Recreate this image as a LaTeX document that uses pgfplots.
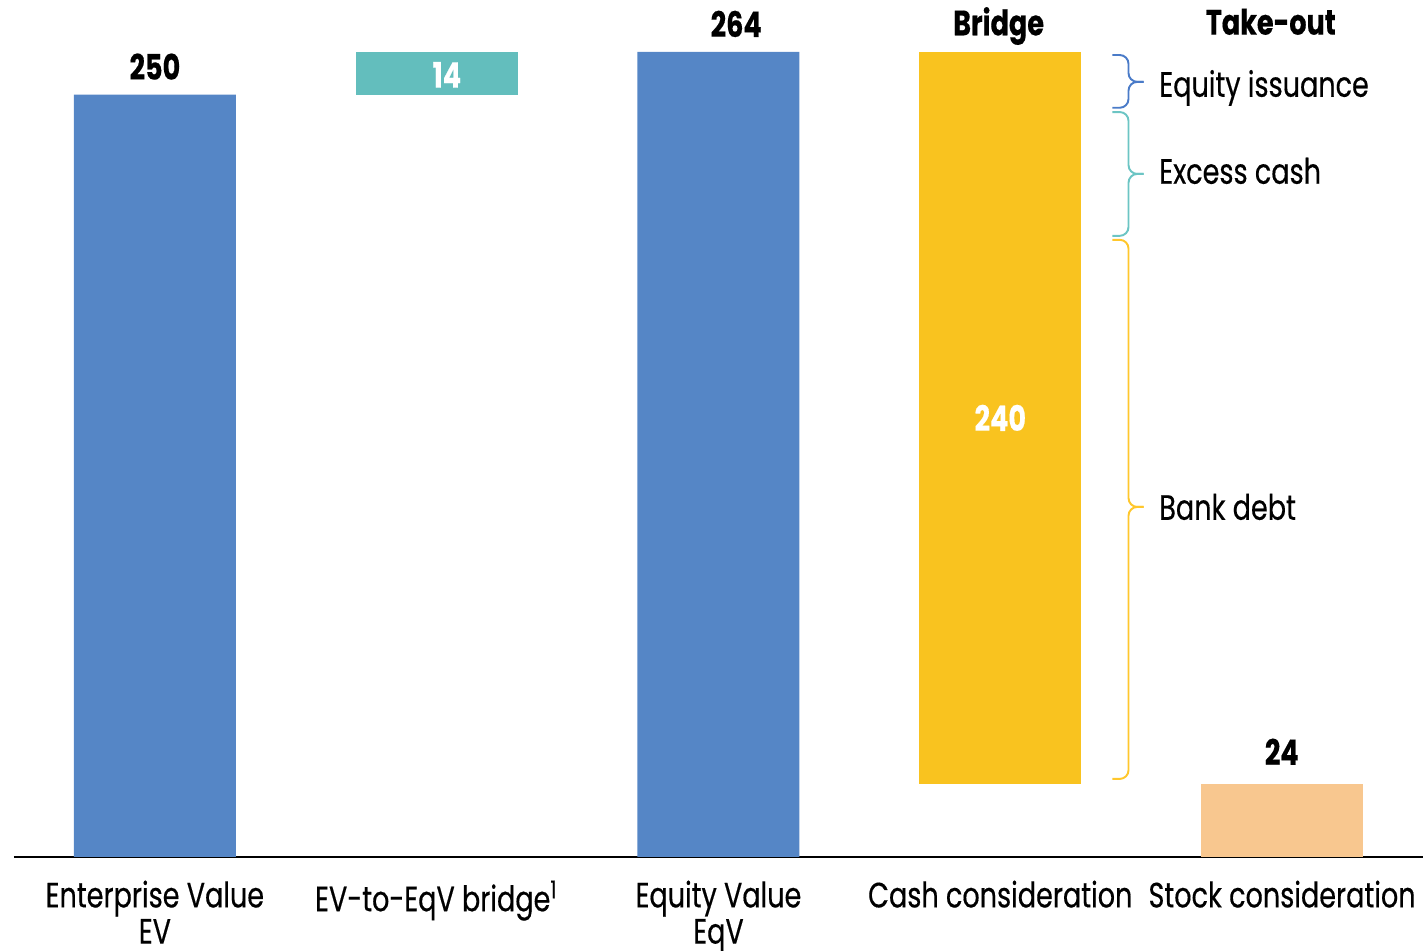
\documentclass[border=0pt]{standalone}
\usepackage{fontspec}
\setmainfont{Poppins}[FakeStretch=0.77, FakeBold=0.4]
\usepackage{pgfplots}
\pgfplotsset{compat=1.18}
\definecolor{evblue}{HTML}{5586C6}
\definecolor{bteal}{HTML}{63BEBD}
\definecolor{byellow}{HTML}{F9C31F}
\definecolor{borange}{HTML}{F8C78F}
\definecolor{brblue}{HTML}{4A7BC8}
\definecolor{brteal}{HTML}{6CC5C4}
\definecolor{bryellow}{HTML}{FFC72C}
\tikzset{brc/.style={line width=0.55pt, rounded corners=2.5pt}}
\begin{document}
\begin{tikzpicture}[font=\fontsize{10}{10.5}\selectfont]
\useasboundingbox (-0.14,-0.94) rectangle (14.09,8.57);
\begin{axis}[
  width=14.09cm, height=8.05cm, scale only axis,
  xmin=-0.5, xmax=4.5, ymin=0, ymax=264,
  clip=false,
  ybar stacked, bar width=1.62cm,
  hide y axis,
  axis x line*=bottom,
  x axis line style={line width=0.6pt, black},
  xtick={0,1,2,3,4},
  xtick style={draw=none},
  xticklabels={{Enterprise Value\\EV},{EV-to-EqV bridge\textsuperscript{1}},{Equity Value\\EqV},{Cash consideration},{Stock consideration}},
  xticklabel style={align=center, font=\fontsize{10}{10.3}\selectfont, yshift=-3.2pt},
]
\addplot[draw=none, fill=none] coordinates {(0,0) (1,250) (2,0) (3,24) (4,0)};
\addplot[draw=none, fill=evblue] coordinates {(0,250) (1,0) (2,264) (3,0) (4,0)};
\addplot[draw=none, fill=bteal] coordinates {(0,0) (1,14) (2,0) (3,0) (4,0)};
\addplot[draw=none, fill=byellow] coordinates {(0,0) (1,0) (2,0) (3,240) (4,0)};
\addplot[draw=none, fill=borange] coordinates {(0,0) (1,0) (2,0) (3,0) (4,24)};

\coordinate (l14) at (axis cs:1.036,256.5);
\coordinate (l240) at (axis cs:3,144);

\node[font=\bfseries] at (axis cs:0,259.2) {250};
\node[font=\bfseries] at (axis cs:2.063,273.2) {264};
\node[font=\bfseries] at (axis cs:2.994,272.5) {Bridge};
\node[font=\bfseries] at (axis cs:3.999,34.5) {24};
\node[font=\bfseries] at (axis cs:3.96,273.9) {Take-out};

\node[anchor=west, inner sep=0pt] at (axis cs:3.562,252.2) {Equity issuance};
\node[anchor=west, inner sep=0pt] at (axis cs:3.562,225) {Excess cash};
\node[anchor=west, inner sep=0pt] at (axis cs:3.562,114.8) {Bank debt};

\draw[brc, brblue] (axis cs:3.398,263) -- (axis cs:3.455,263) -- (axis cs:3.455,254.2) -- (axis cs:3.509,254.2);
\draw[brc, brblue] (axis cs:3.398,245.7) -- (axis cs:3.455,245.7) -- (axis cs:3.455,254.2) -- (axis cs:3.509,254.2);
\draw[brc, brteal] (axis cs:3.398,244.3) -- (axis cs:3.455,244.3) -- (axis cs:3.455,224) -- (axis cs:3.509,224);
\draw[brc, brteal] (axis cs:3.398,203.7) -- (axis cs:3.455,203.7) -- (axis cs:3.455,224) -- (axis cs:3.509,224);
\draw[brc, bryellow] (axis cs:3.398,202.4) -- (axis cs:3.455,202.4) -- (axis cs:3.455,114.8) -- (axis cs:3.509,114.8);
\draw[brc, bryellow] (axis cs:3.398,25.6) -- (axis cs:3.455,25.6) -- (axis cs:3.455,114.8) -- (axis cs:3.509,114.8);
\end{axis}
\node[font=\bfseries, text=white] at (l14) {14};
\node[font=\bfseries, text=white] at (l240) {240};
\end{tikzpicture}
\end{document}
